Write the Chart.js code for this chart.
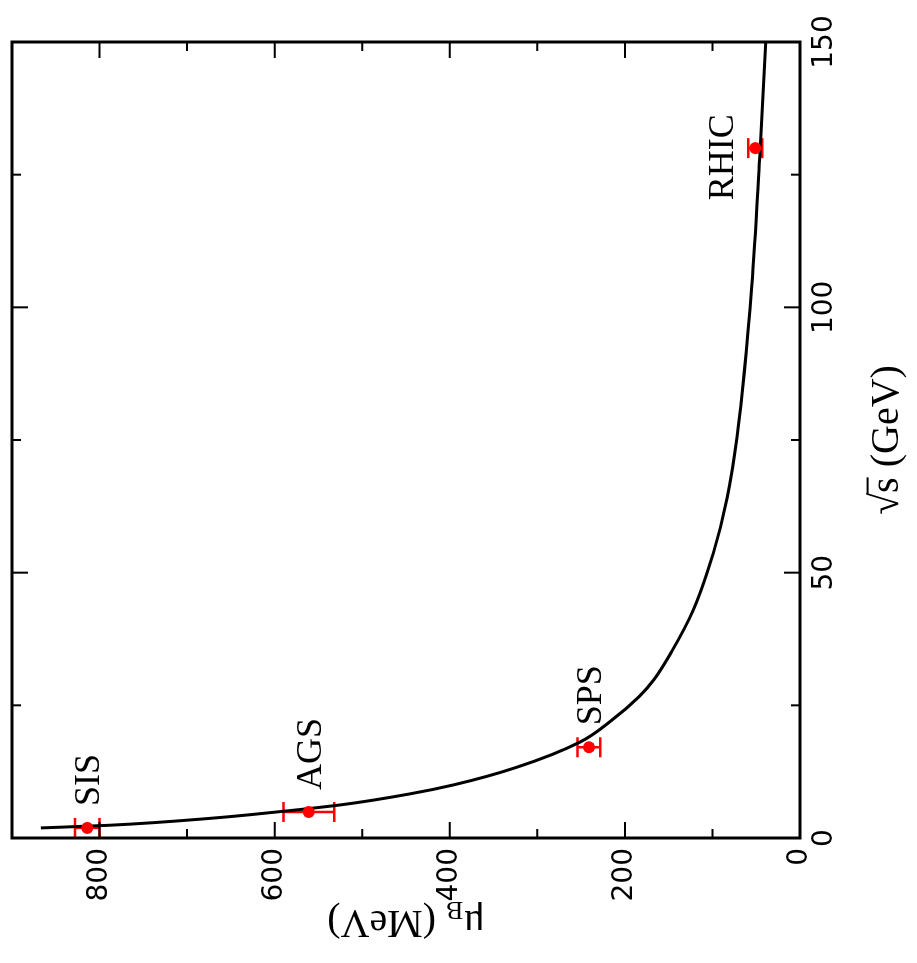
<!DOCTYPE html>
<html>
<head>
<meta charset="utf-8">
<title>muB vs sqrt(s)</title>
<script src="https://cdn.jsdelivr.net/npm/chart.js@4.4.0/dist/chart.umd.min.js"></script>
<style>
    html, body { margin: 0; padding: 0; background: #fff; overflow: hidden; }
    #wrap { position: relative; width: 917px; height: 963px; overflow: hidden; background: #fff; }
    /* the figure is drawn upright, then turned a quarter turn like the original page */
    #muChart { position: absolute; left: 0; top: 0; transform-origin: 0 0; transform: translateY(963px) rotate(-90deg); }
</style>
</head>
<body>
<div id="wrap"><canvas id="muChart" width="963" height="917"></canvas></div>
<script>
// Fitted freeze-out curve
const curveSqrtS = [1.9, 2.4, 3.7, 4.9, 6.3, 8.3, 10.0, 13.3, 18.1, 22.2, 26.6, 29.8, 35, 42.9, 53.7, 64.2, 75.5, 104, 128.2, 150];
const curveMuB   = [867, 789, 674, 598, 522, 446, 396, 324, 251, 215, 184, 167, 147, 122, 99, 83, 72, 55, 46, 39];

// Experimental points
const expNames  = ["SIS", "AGS", "SPS", "RHIC"];
const expSqrtS  = [1.9, 4.9, 17.1, 130];
const expMuB    = [814, 561, 241, 51];
const expMuBErr = [14, 29, 13, 8];

// Axis ticks
const xTicks = [0, 50, 100, 150];
const xMinorTicks = [25, 75, 125];
const yTicks = [0, 200, 400, 600, 800];
const yMinorTicks = [100, 300, 500, 700];

document.addEventListener("DOMContentLoaded", function() {
    const serif = "'Liberation Serif', 'DejaVu Serif', serif";
    const sans = "'DejaVu Sans', sans-serif";

    // draws a row of text pieces (with optional subscript / overline) centred on cx
    function drawPieces(ctx, pieces, cx, cy) {
        let total = 0;
        pieces.forEach(p => {
            ctx.font = p.size + "px " + serif;
            p.w = ctx.measureText(p.t).width;
            total += p.w;
        });
        let x = cx - total / 2;
        pieces.forEach(p => {
            ctx.font = p.size + "px " + serif;
            ctx.fillText(p.t, x, cy + (p.dy || 0));
            if (p.over) {
                ctx.beginPath();
                ctx.lineWidth = 2;
                ctx.moveTo(x - 1, cy - p.size * 0.76);
                ctx.lineTo(x + p.w, cy - p.size * 0.76);
                ctx.stroke();
            }
            x += p.w;
        });
    }

    const decorations = {
        id: "decorations",
        beforeDatasetsDraw(chart) {
            // error bars in muB
            const ctx = chart.ctx, xs = chart.scales.x, ys = chart.scales.y;
            ctx.save();
            ctx.strokeStyle = "#ff0000";
            ctx.lineWidth = 2.5;
            for (let i = 0; i < expNames.length; i++) {
                const px = xs.getPixelForValue(expSqrtS[i]);
                const lo = ys.getPixelForValue(expMuB[i] - expMuBErr[i]);
                const hi = ys.getPixelForValue(expMuB[i] + expMuBErr[i]);
                ctx.beginPath();
                ctx.moveTo(px, lo); ctx.lineTo(px, hi);
                ctx.moveTo(px - 10, lo); ctx.lineTo(px + 10, lo);
                ctx.moveTo(px - 10, hi); ctx.lineTo(px + 10, hi);
                ctx.stroke();
            }
            ctx.restore();
        },
        afterDraw(chart) {
            const ctx = chart.ctx, xs = chart.scales.x, ys = chart.scales.y;
            const a = chart.chartArea;
            ctx.save();
            ctx.strokeStyle = "#000";
            ctx.fillStyle = "#000";

            // frame
            ctx.lineWidth = 3;
            ctx.strokeRect(a.left, a.top, a.right - a.left, a.bottom - a.top);

            // inward ticks on all four sides
            ctx.lineWidth = 2;
            ctx.beginPath();
            function xTick(v, len) {
                const px = xs.getPixelForValue(v);
                ctx.moveTo(px, a.bottom); ctx.lineTo(px, a.bottom - len);
                ctx.moveTo(px, a.top); ctx.lineTo(px, a.top + len);
            }
            function yTick(v, len) {
                const py = ys.getPixelForValue(v);
                ctx.moveTo(a.left, py); ctx.lineTo(a.left + len, py);
                ctx.moveTo(a.right, py); ctx.lineTo(a.right - len, py);
            }
            xTicks.forEach(v => xTick(v, 16));
            xMinorTicks.forEach(v => xTick(v, 9));
            yTicks.forEach(v => yTick(v, 16));
            yMinorTicks.forEach(v => yTick(v, 9));
            ctx.stroke();

            // point labels
            ctx.font = "36px " + serif;
            ctx.textBaseline = "alphabetic";
            for (let i = 0; i < expNames.length; i++) {
                const px = xs.getPixelForValue(expSqrtS[i]);
                const py = ys.getPixelForValue(expMuB[i]);
                if (expNames[i] === "RHIC") {
                    ctx.textAlign = "center";
                    ctx.fillText(expNames[i], px - 9, py - 22);
                } else {
                    ctx.textAlign = "left";
                    ctx.fillText(expNames[i], px + 22, py + 12);
                }
            }

            // axis titles
            ctx.textAlign = "left";
            drawPieces(ctx, [
                { t: "\u221A", size: 40 },
                { t: "s", size: 40, over: true },
                { t: " (GeV)", size: 40 }
            ], (a.left + a.right) / 2, 898);

            ctx.translate(52, (a.top + a.bottom) / 2);
            ctx.rotate(-Math.PI / 2);
            drawPieces(ctx, [
                { t: "\u03BC", size: 40 },
                { t: "B", size: 26, dy: 9 },
                { t: " (MeV)", size: 40 }
            ], 0, 0);
            ctx.restore();
        }
    };

    const ctx = document.getElementById("muChart");
    new Chart(ctx, {
        type: "scatter",
        data: {
            datasets: [{
                label: "fit",
                data: curveSqrtS.map((s, i) => ({ x: s, y: curveMuB[i] })),
                showLine: true,
                borderColor: "#000",
                borderWidth: 3,
                pointRadius: 0,
                cubicInterpolationMode: "monotone",
                order: 2
            }, {
                label: "data",
                data: expSqrtS.map((s, i) => ({ x: s, y: expMuB[i] })),
                showLine: false,
                pointRadius: 6,
                pointBorderWidth: 0,
                backgroundColor: "#ff0000",
                order: 1
            }]
        },
        options: {
            responsive: false,
            animation: false,
            layout: { padding: { top: 12, right: 42, left: 0, bottom: 0 } },
            plugins: { legend: { display: false }, tooltip: { enabled: false } },
            scales: {
                x: {
                    type: "linear",
                    min: 0,
                    max: 150,
                    grid: { display: false, drawTicks: false },
                    border: { display: false },
                    afterBuildTicks: s => { s.ticks = xTicks.map(v => ({ value: v })); },
                    afterFit: s => { s.height = 117; s.paddingLeft = 0; s.paddingRight = 0; },
                    ticks: { font: { family: sans, size: 28 }, color: "#000", padding: 8, maxRotation: 0 }
                },
                y: {
                    type: "linear",
                    min: 0,
                    max: 900,
                    grid: { display: false, drawTicks: false },
                    border: { display: false },
                    afterBuildTicks: s => { s.ticks = yTicks.map(v => ({ value: v })); },
                    afterFit: s => { s.width = 125; s.paddingTop = 0; s.paddingBottom = 0; },
                    ticks: { font: { family: sans, size: 28 }, color: "#000", padding: 10 }
                }
            }
        },
        plugins: [decorations]
    });
});
</script>
</body>
</html>
